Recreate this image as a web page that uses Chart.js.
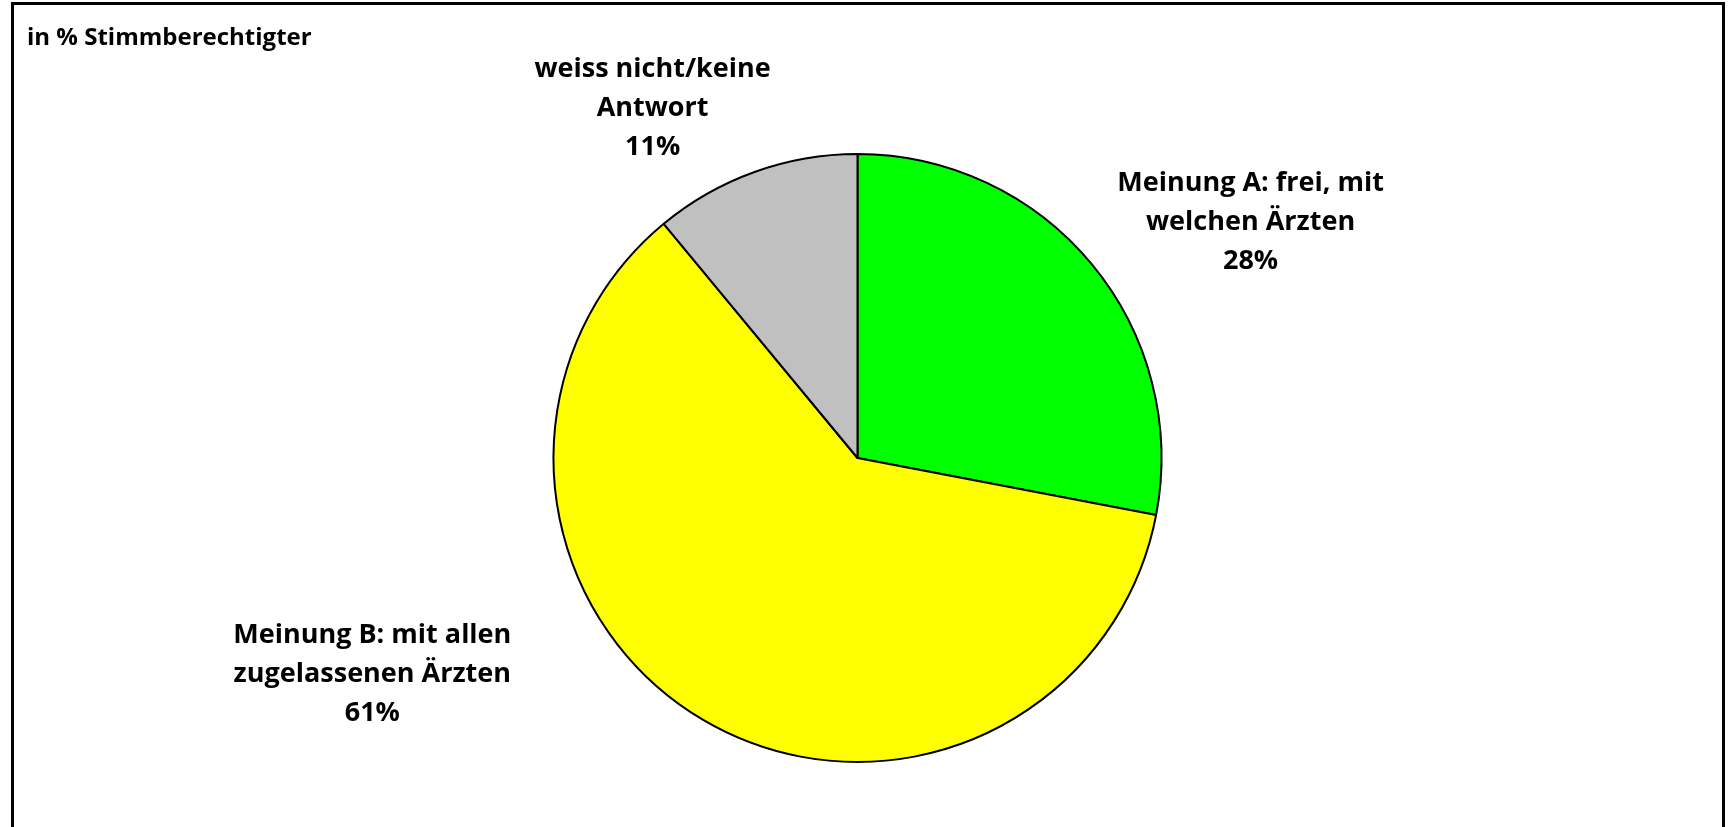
<!DOCTYPE html>
<html lang="de">
<head>
<meta charset="utf-8">
<title>Meinungen in % Stimmberechtigter</title>
<script src="https://cdn.jsdelivr.net/npm/chart.js@4"></script>
<style>
    html, body { margin: 0; padding: 0; background: #fff; overflow: hidden; }
    #wrap { position: relative; width: 1731px; height: 827px; }
    #frame {
        position: absolute; left: 11px; top: 2px; width: 1714px; height: 900px;
        border: 3px solid #000; box-sizing: border-box;
    }
    #chart { position: absolute; left: 0; top: 0; }
</style>
</head>
<body>
<div id="wrap">
    <div id="frame"></div>
    <canvas id="chart" width="1731" height="827"></canvas>
</div>
<script>
// Survey answers, clockwise from 12 o'clock
const categories = [
    ['Meinung A: frei, mit', 'welchen Ärzten'],
    ['Meinung B: mit allen', 'zugelassenen Ärzten'],
    ['weiss nicht/keine', 'Antwort']
];
const shares = [28, 61, 11];
const sliceColors = ['#00FF00', '#FFFF00', '#C0C0C0'];
const unitLabel = 'in % Stimmberechtigter';

// where each label block sits, in multiples of the pie radius from its centre
const labelOffsets = [
    { x: 1.293, y: -0.774 },
    { x: -1.596, y: 0.712 },
    { x: -0.674, y: -1.150 }
];

const FONT = 'bold 27px "Open Sans", Lato, sans-serif';
const LINE_H = 39;

const sliceLabels = {
    id: 'sliceLabels',
    afterDraw(chart) {
        const ctx = chart.ctx;
        const arc = chart.getDatasetMeta(0).data[0];
        const cx = arc.x, cy = arc.y, r = arc.outerRadius;
        ctx.save();
        ctx.fillStyle = '#000';
        ctx.textBaseline = 'middle';

        // unit note in the top-left corner
        ctx.font = 'bold 24px "Open Sans", Lato, sans-serif';
        ctx.textAlign = 'left';
        ctx.fillText(unitLabel, 27, 38);

        ctx.font = FONT;
        ctx.textAlign = 'center';
        chart.data.datasets[0].data.forEach((v, i) => {
            const lines = categories[i].concat([v + '%']);
            const x = cx + labelOffsets[i].x * r;
            const y = cy + labelOffsets[i].y * r;
            const y0 = y - (lines.length - 1) * LINE_H / 2;
            lines.forEach((t, j) => ctx.fillText(t, x, y0 + j * LINE_H));
        });
        ctx.restore();
    }
};

new Chart(document.getElementById('chart').getContext('2d'), {
    type: 'pie',
    data: {
        labels: categories.map(c => c.join(' ')),
        datasets: [{
            data: shares,
            backgroundColor: sliceColors,
            borderColor: '#000',
            borderWidth: 2,
            borderAlign: 'center'
        }]
    },
    options: {
        responsive: false,
        animation: false,
        layout: { padding: { top: 153, bottom: 64, left: 400, right: 416 } },
        plugins: {
            legend: { display: false },
            tooltip: { enabled: false }
        }
    },
    plugins: [sliceLabels]
});
</script>
</body>
</html>
